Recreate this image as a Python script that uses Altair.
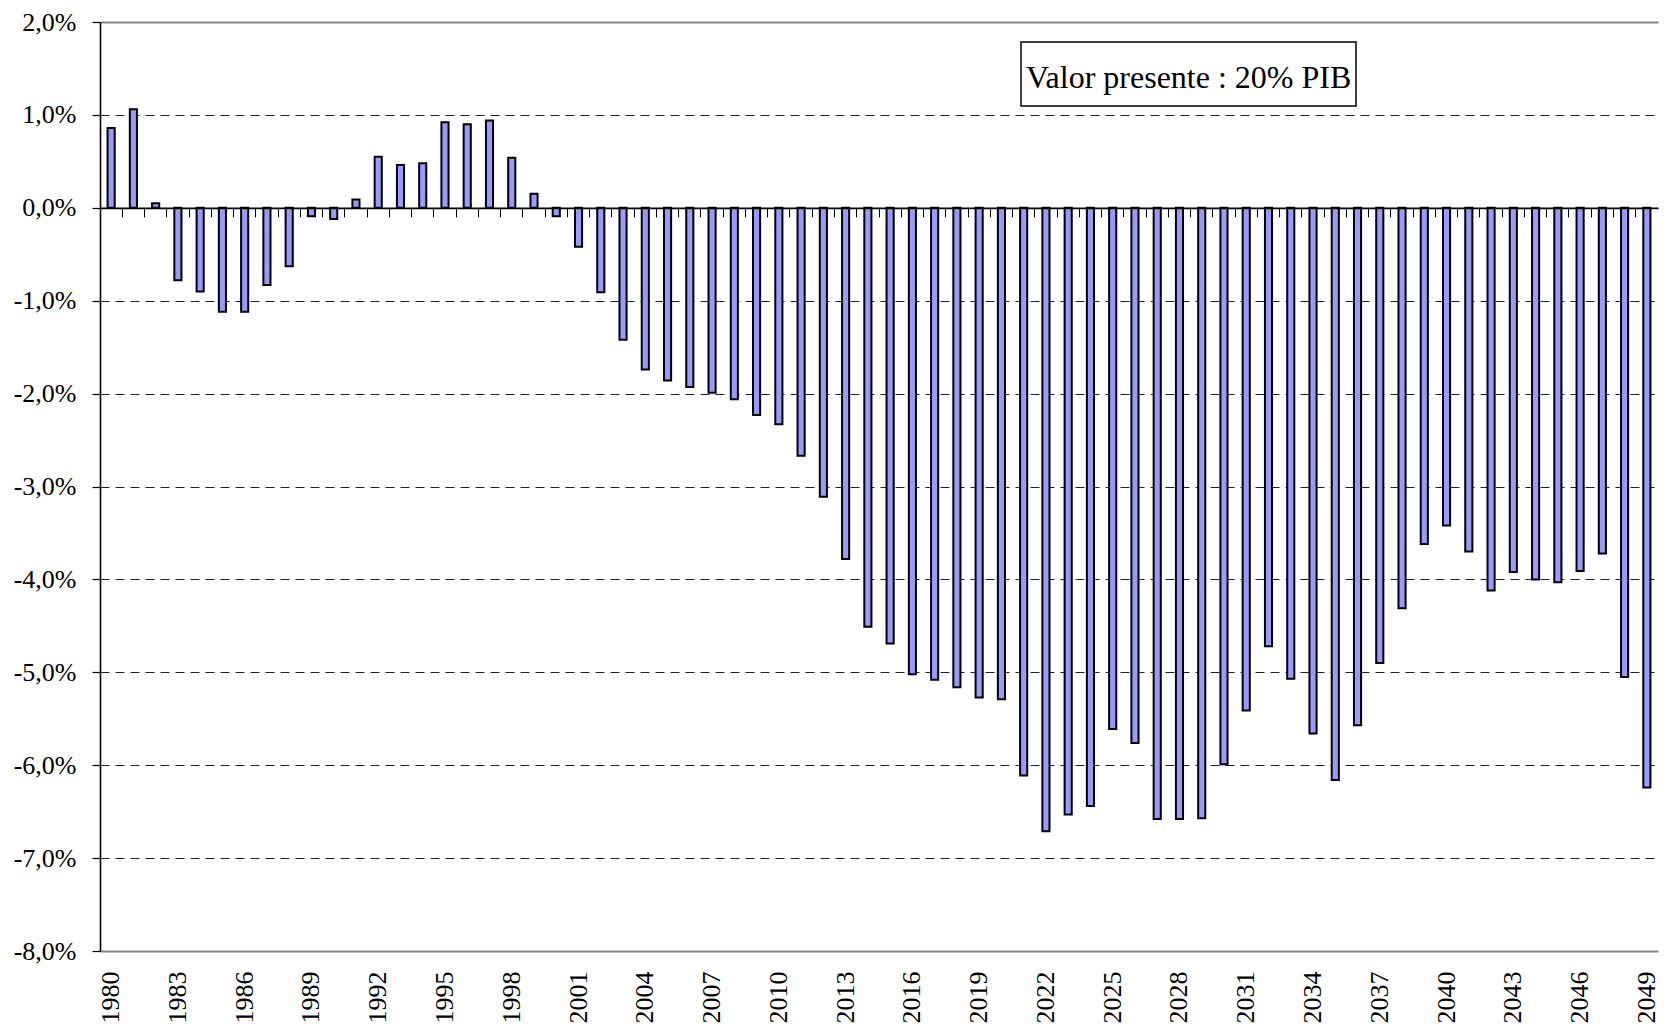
import altair as alt
import pandas as pd

# ---- data ----
years = list(range(1980, 2050))
values = [
    0.86, 1.06, 0.05, -0.78, -0.90, -1.12, -1.12, -0.83, -0.63, -0.09,   # 1980-1989
    -0.12, 0.09, 0.55, 0.46, 0.48, 0.92, 0.90, 0.94, 0.54, 0.15,         # 1990-1999
    -0.09, -0.42, -0.91, -1.42, -1.74, -1.86, -1.93, -1.99, -2.06, -2.23,  # 2000-2009
    -2.33, -2.67, -3.11, -3.78, -4.51, -4.69, -5.02, -5.08, -5.16, -5.27,  # 2010-2019
    -5.29, -6.11, -6.71, -6.53, -6.44, -5.61, -5.76, -6.58, -6.58, -6.57,  # 2020-2029
    -5.99, -5.41, -4.72, -5.07, -5.66, -6.16, -5.57, -4.90, -4.31, -3.62,  # 2030-2039
    -3.42, -3.70, -4.12, -3.92, -4.00, -4.03, -3.91, -3.72, -5.05, -6.24,  # 2040-2049
]
year_labels = years[::3]
y_ticks = list(range(-8, 3))
annotation = ["Valor presente : 20% PIB"]

df = pd.DataFrame({"Year": years, "Value": values})
note_df = pd.DataFrame({"text": annotation})

FONT = "Liberation Serif"
W = 1558
H = 929
zero_offset = -H * 8 / 10  # move the zero-line axis up to y = 0

x_scale = alt.Scale(paddingInner=0, paddingOuter=0)
y_scale = alt.Scale(domain=[-8, 2], nice=False, zero=False)

label_expr = ("(datum.value < 0 ? '-' : '') + "
              "replace(format(abs(datum.value), '.1f'), '.', ',') + '%'")

edge_test = "datum.value == 2 || datum.value == -8"

bars = alt.Chart(df).mark_bar(
    width=alt.RelativeBandSize(0.32),
    fill="#9999FF",
    stroke="black",
    strokeWidth=2,
).encode(
    x=alt.X(
        "Year:O",
        scale=x_scale,
        axis=alt.Axis(
            orient="bottom",
            values=year_labels,
            labelAngle=-90,
            labelFont=FONT,
            labelFontSize=26,
            labelColor="black",
            labelPadding=20,
            ticks=False,
            tickSize=0,
            domain=False,
            grid=False,
            title=None,
            labelOverlap=False,
        ),
    ),
    y=alt.Y(
        "Value:Q",
        scale=y_scale,
        axis=alt.Axis(
            values=y_ticks,
            labelExpr=label_expr,
            labelFont=FONT,
            labelFontSize=26,
            labelColor="black",
            labelPadding=16,
            tickSize=8,
            tickColor="black",
            tickWidth=1.2,
            domainColor="black",
            domainWidth=1.6,
            grid=True,
            gridColor={"condition": {"test": edge_test, "value": "#888888"}, "value": "#222222"},
            gridDash={"condition": {"test": edge_test, "value": []}, "value": [9, 6]},
            gridWidth={"condition": {"test": edge_test, "value": 2}, "value": 1},
            title=None,
        ),
    ),
)

zero_axis = alt.Chart(df).mark_point(opacity=0).encode(
    x=alt.X(
        "Year:O",
        scale=x_scale,
        axis=alt.Axis(
            orient="bottom",
            offset=zero_offset,
            labels=False,
            ticks=True,
            tickSize=9,
            tickColor="black",
            tickWidth=1,
            bandPosition=0,
            domain=True,
            domainColor="black",
            domainWidth=1.8,
            grid=False,
            title=None,
            zindex=2,
        ),
    ),
)

box = alt.Chart(note_df).mark_rect(fill="white", stroke="black", strokeWidth=1.5).encode(
    x=alt.value(921), x2=alt.value(1256), y=alt.value(20), y2=alt.value(84)
)

label = alt.Chart(note_df).mark_text(
    align="left", baseline="alphabetic", font=FONT, fontSize=32, color="black"
).encode(x=alt.value(926), y=alt.value(66), text="text:N")

chart = (
    alt.layer(bars, zero_axis, box, label)
    .resolve_axis(x="independent")
    .properties(
        width=W,
        height=H,
        padding={"left": 92, "top": 14, "right": 8, "bottom": 73},
        autosize=alt.AutoSizeParams(type="none"),
        background="white",
    )
    .configure_view(stroke=None)
)

chart.save("out.html", embed_options={"renderer": "svg", "actions": False})
